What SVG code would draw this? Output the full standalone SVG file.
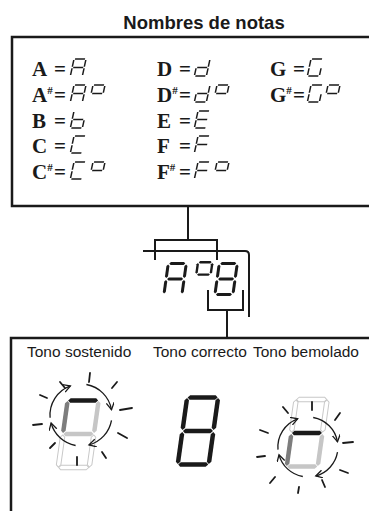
<svg xmlns="http://www.w3.org/2000/svg" xmlns:xlink="http://www.w3.org/1999/xlink" width="369" height="511" viewBox="0 0 369 511">
<style>
.title{font-family:"Liberation Sans",Arial,sans-serif;font-weight:bold;font-size:18.5px;fill:#1a1a1a}
.note{font-family:"Liberation Serif","Times New Roman",serif;font-weight:bold;font-size:21px;fill:#1a1a1a}
.sh{font-size:11px}
.lbl{font-family:"Liberation Sans",Arial,sans-serif;font-size:15.5px;fill:#1a1a1a}
.box{fill:none;stroke:#1a1a1a;stroke-width:2.5}
.con{fill:none;stroke:#1a1a1a;stroke-width:2}
.tg{fill:none;stroke:#1a1a1a;stroke-width:1.5}
.blk{fill:#1a1a1a}
.dg{fill:#7d7d7d}
.lg{fill:#c6c6c6}
.hol{fill:none;stroke:#c8c8c8;stroke-width:1}
.arc{fill:none;stroke:#1a1a1a;stroke-width:1.3;marker-end:url(#ah)}
.ray{stroke:#1a1a1a;stroke-width:1.8;stroke-linecap:round}
</style>
<defs>
<marker id="ah" markerUnits="userSpaceOnUse" markerWidth="10" markerHeight="10" refX="7" refY="4" orient="auto">
<path d="M0,0 L7,4 L0,8" fill="none" stroke="#1a1a1a" stroke-width="1.3"/>
</marker>
<path id="ta" d="M1,0H11"/>
<path id="tf" d="M0,1V7.8"/>
<path id="tb" d="M12,1V7.8"/>
<path id="tg" d="M1,8.5H11"/>
<path id="te" d="M0,9.2V16"/>
<path id="tc" d="M12,9.2V16"/>
<path id="td" d="M1,17H11"/>
<g id="gA" class="tg" transform="skewX(-12)"><use href="#ta"/><use href="#tf"/><use href="#tb"/><use href="#tg"/><use href="#te"/><use href="#tc"/></g>
<g id="gB" class="tg" transform="skewX(-12)"><use href="#tf"/><use href="#tg"/><use href="#te"/><use href="#tc"/><use href="#td"/></g>
<g id="gC" class="tg" transform="skewX(-12)"><use href="#ta"/><use href="#tf"/><use href="#te"/><use href="#td"/></g>
<g id="gD" class="tg" transform="skewX(-12)"><use href="#tb"/><use href="#tg"/><use href="#te"/><use href="#tc"/><use href="#td"/></g>
<g id="gE" class="tg" transform="skewX(-12)"><use href="#ta"/><use href="#tf"/><use href="#tg"/><use href="#te"/><use href="#td"/></g>
<g id="gF" class="tg" transform="skewX(-12)"><use href="#ta"/><use href="#tf"/><use href="#tg"/><use href="#te"/></g>
<g id="gG" class="tg" transform="skewX(-12)"><use href="#ta"/><use href="#tf"/><use href="#te"/><use href="#tc"/><use href="#td"/></g>
<g id="gO" class="tg" transform="skewX(-12)"><use href="#ta"/><use href="#tf"/><use href="#tb"/><use href="#tg"/></g>
<polygon id="hs2" points="0,0 1.5,-1.5 14.5,-1.5 16,0 14.5,1.5 1.5,1.5"/>
<polygon id="vs2" points="0,0 1.5,1.5 1.5,12 0,13.5 -1.5,12 -1.5,1.5"/>
<polygon id="hs" points="0,0 2.25,-2.25 27.75,-2.25 30,0 27.75,2.25 2.25,2.25"/>
<polygon id="vs" points="0,0 2.25,2.25 2.25,29.75 0,32 -2.25,29.75 -2.25,2.25"/>
</defs>

<text class="title" x="204" y="29" text-anchor="middle">Nombres de notas</text>

<g id="note-table">
<path class="box" d="M372,37 H12 V206 H372"/>
<text class="note" y="76"><tspan x="32">A</tspan> <tspan x="54">=</tspan></text>
<text class="note" y="102"><tspan x="32">A</tspan><tspan class="sh" dy="-8">#</tspan><tspan x="54" dy="8">=</tspan></text>
<text class="note" y="128"><tspan x="32">B</tspan> <tspan x="54">=</tspan></text>
<text class="note" y="153"><tspan x="32">C</tspan> <tspan x="54">=</tspan></text>
<text class="note" y="179"><tspan x="32">C</tspan><tspan class="sh" dy="-8">#</tspan><tspan x="54" dy="8">=</tspan></text>
<text class="note" y="76"><tspan x="157">D</tspan> <tspan x="179">=</tspan></text>
<text class="note" y="102"><tspan x="157">D</tspan><tspan class="sh" dy="-8">#</tspan><tspan x="179" dy="8">=</tspan></text>
<text class="note" y="128"><tspan x="157">E</tspan> <tspan x="179">=</tspan></text>
<text class="note" y="153"><tspan x="157">F</tspan> <tspan x="179">=</tspan></text>
<text class="note" y="179"><tspan x="157">F</tspan><tspan class="sh" dy="-8">#</tspan><tspan x="179" dy="8">=</tspan></text>
<text class="note" y="76"><tspan x="270">G</tspan> <tspan x="293">=</tspan></text>
<text class="note" y="102"><tspan x="270">G</tspan><tspan class="sh" dy="-8" font-size="10">#</tspan><tspan x="293" dy="8">=</tspan></text>
<use href="#gA" transform="translate(74,59)"/>
<use href="#gA" transform="translate(74,85)"/><use href="#gO" transform="translate(93,85)"/>
<use href="#gB" transform="translate(74,111)"/>
<use href="#gC" transform="translate(74,136)"/>
<use href="#gC" transform="translate(74,162)"/><use href="#gO" transform="translate(93,162)"/>
<use href="#gD" transform="translate(198,59)"/>
<use href="#gD" transform="translate(198,85)"/><use href="#gO" transform="translate(217,85)"/>
<use href="#gE" transform="translate(198,111)"/>
<use href="#gF" transform="translate(198,136)"/>
<use href="#gF" transform="translate(198,162)"/><use href="#gO" transform="translate(217,162)"/>
<use href="#gG" transform="translate(311,59)"/>
<use href="#gG" transform="translate(311,85)"/><use href="#gO" transform="translate(328,85)"/>
</g>

<g id="display" class="blk">
<g transform="translate(167,262) skewX(-8)">
<use href="#hs2" x="2.5" y="1.5"/><use href="#vs2" x="1.5" y="2.5"/><use href="#vs2" x="19.5" y="2.5"/><use href="#hs2" x="2.5" y="17"/><use href="#vs2" x="1.5" y="18"/><use href="#vs2" x="19.5" y="18"/>
</g>
<g transform="translate(197,261) skewX(-8) scale(0.8)">
<use href="#hs2" x="2.5" y="1.5"/><use href="#vs2" x="1.5" y="2.5"/><use href="#vs2" x="19.5" y="2.5"/><use href="#hs2" x="2.5" y="17"/>
</g>
<g transform="translate(218,262) skewX(-8)">
<use href="#hs2" x="2.5" y="1.5"/><use href="#vs2" x="1.5" y="2.5"/><use href="#vs2" x="19.5" y="2.5"/><use href="#hs2" x="2.5" y="17"/><use href="#vs2" x="1.5" y="18"/><use href="#vs2" x="19.5" y="18"/><use href="#hs2" x="2.5" y="32.5"/>
</g>
</g>

<g id="connectors">
<path class="con" d="M188,206 V240"/>
<path class="con" d="M155,260 V240 H217 V260"/>
<path class="con" d="M143,251 H245 Q249,251 249,255 V317"/>
<path class="con" d="M208,290 V310 H243 V290"/>
<path class="con" d="M227,310 V338"/>
</g>

<g id="tuning-panel">
<path class="box" d="M372,338 H11 V514"/>
<text class="lbl" x="27" y="357">Tono sostenido</text>
<text class="lbl" x="153" y="357">Tono correcto</text>
<text class="lbl" x="253" y="357">Tono bemolado</text>
</g>

<g id="sharp-display">
<g transform="translate(65.5,398) skewX(-8)">
<use href="#hs" x="3" y="2.5" class="blk"/>
<use href="#vs" x="2.5" y="3" class="dg"/>
<use href="#vs" x="33.5" y="3" class="lg"/>
<use href="#hs" x="3" y="36" class="lg"/>
<use href="#vs" x="2.5" y="37" class="hol"/>
<use href="#vs" x="33.5" y="37" class="hol"/>
<use href="#hs" x="3" y="69.5" class="hol"/>
</g>
<path class="arc" d="M50.1,417.7 A31,31 0 0 1 70.4,385.9"/>
<path class="arc" d="M86.4,384.5 A31,31 0 0 1 111.5,409.6"/>
<path class="arc" d="M111.5,420.4 A31,31 0 0 1 89,444.9"/>
<path class="arc" d="M75.6,445.5 A31,31 0 0 1 51.1,423"/>
<line class="ray" x1="60" y1="382" x2="65" y2="388"/>
<line class="ray" x1="90" y1="373" x2="89" y2="382"/>
<line class="ray" x1="117" y1="382" x2="112" y2="388"/>
<line class="ray" x1="40" y1="395" x2="47" y2="398"/>
<line class="ray" x1="120" y1="410" x2="132" y2="408"/>
<line class="ray" x1="33" y1="425" x2="42" y2="424"/>
<line class="ray" x1="118" y1="433" x2="127" y2="438"/>
<line class="ray" x1="50" y1="448" x2="55" y2="443"/>
<line class="ray" x1="102" y1="452" x2="106" y2="458"/>
<line class="ray" x1="77" y1="457" x2="77" y2="465"/>
</g>

<g id="correct-display" class="blk">
<g transform="translate(185,395) skewX(-8)">
<use href="#hs" x="3" y="2.5"/><use href="#vs" x="2.5" y="3"/><use href="#vs" x="33.5" y="3"/><use href="#hs" x="3" y="36"/><use href="#vs" x="2.5" y="37"/><use href="#vs" x="33.5" y="37"/><use href="#hs" x="3" y="69.5"/>
</g>
</g>

<g id="flat-display">
<g transform="translate(294,397) skewX(-8)">
<use href="#hs" x="3" y="2.5" class="hol"/>
<use href="#vs" x="2.5" y="3" class="hol"/>
<use href="#vs" x="33.5" y="3" class="hol"/>
<use href="#hs" x="3" y="36" class="blk"/>
<use href="#vs" x="2.5" y="37" class="dg"/>
<use href="#vs" x="33.5" y="37" class="lg"/>
<use href="#hs" x="3" y="69.5" class="lg"/>
</g>
<path class="arc" d="M278,449.6 A30,30 0 0 1 297.7,418.8"/>
<path class="arc" d="M313.2,417.5 A30,30 0 0 1 337.5,441.8"/>
<path class="arc" d="M337.5,452.2 A30,30 0 0 1 315.8,476"/>
<path class="arc" d="M302.8,476.5 A30,30 0 0 1 279,454.8"/>
<line class="ray" x1="283" y1="407" x2="288" y2="413"/>
<line class="ray" x1="312" y1="402" x2="312" y2="410"/>
<line class="ray" x1="340" y1="413" x2="335" y2="420"/>
<line class="ray" x1="260" y1="430" x2="268" y2="433"/>
<line class="ray" x1="343" y1="443" x2="353" y2="442"/>
<line class="ray" x1="257" y1="457" x2="265" y2="456"/>
<line class="ray" x1="340" y1="470" x2="348" y2="473"/>
<line class="ray" x1="270" y1="483" x2="275" y2="477"/>
<line class="ray" x1="325" y1="487" x2="322" y2="480"/>
<line class="ray" x1="298" y1="493" x2="299" y2="487"/>
</g>
</svg>
